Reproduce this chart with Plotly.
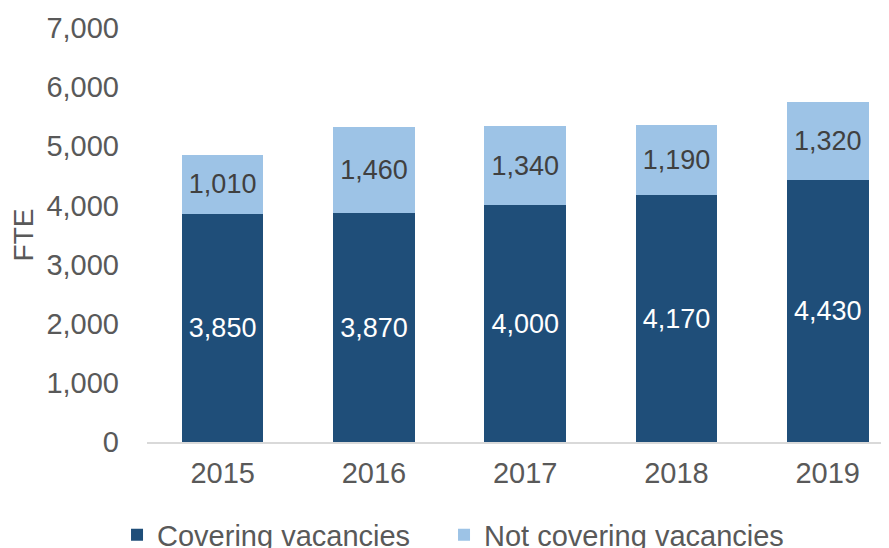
import plotly.graph_objects as go

years = ["2015", "2016", "2017", "2018", "2019"]
covering = [3850, 3870, 4000, 4170, 4430]
not_covering = [1010, 1460, 1340, 1190, 1320]
y_ticks = [0, 1000, 2000, 3000, 4000, 5000, 6000, 7000]

FONT = "Liberation Sans, Arial, sans-serif"
DARK = "#1F4E79"
LIGHT = "#9DC3E6"

fig = go.Figure()
fig.add_trace(go.Bar(
    x=years, y=covering, name="Covering vacancies", legend="legend",
    marker=dict(color=DARK, line=dict(width=0)), width=0.54,
    text=[f"{v:,}" for v in covering], textposition="inside",
    insidetextanchor="middle", textangle=0, constraintext="none",
    textfont=dict(family=FONT, size=27, color="#FFFFFF"),
    hoverinfo="skip",
))
fig.add_trace(go.Bar(
    x=years, y=not_covering, name="Not covering vacancies", legend="legend2",
    marker=dict(color=LIGHT, line=dict(width=0)), width=0.54,
    text=[f"{v:,}" for v in not_covering], textposition="inside",
    insidetextanchor="middle", textangle=0, constraintext="none",
    textfont=dict(family=FONT, size=27, color="#404040"),
    hoverinfo="skip",
))

legend_common = dict(
    orientation="h", xanchor="left", y=-0.2245, yanchor="middle",
    font=dict(family=FONT, size=29, color="#595959"),
    bgcolor="rgba(0,0,0,0)",
)

fig.update_layout(
    width=881, height=540,
    barmode="stack",
    paper_bgcolor="white", plot_bgcolor="white",
    margin=dict(l=139, r=0, t=20, b=106, autoexpand=False),
    font=dict(family=FONT, size=29, color="#595959"),
    showlegend=True,
    legend=dict(x=-0.0404, **legend_common),
    legend2=dict(x=0.4003, **legend_common),
    xaxis=dict(
        type="category", range=[-0.5, 4.405],
        showline=True, linecolor="#D9D9D9", linewidth=1.5,
        showgrid=False, ticks="", ticklabelstandoff=4,
        tickfont=dict(family=FONT, size=29, color="#595959"),
        fixedrange=True,
    ),
    yaxis=dict(
        range=[0, 7000], tickvals=y_ticks, tickformat=",",
        showgrid=False, zeroline=False, showline=False, ticks="",
        ticklabelstandoff=27,
        tickfont=dict(family=FONT, size=29, color="#595959"),
        title=dict(text="FTE", standoff=6,
                   font=dict(family=FONT, size=28, color="#595959")),
        fixedrange=True,
    ),
)

fig.write_html("out.html")
